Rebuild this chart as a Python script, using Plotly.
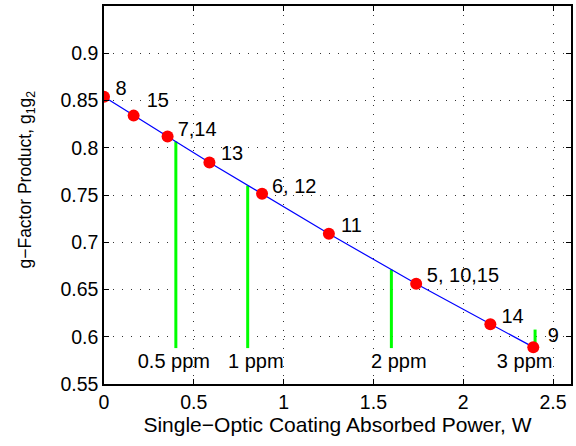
import plotly.graph_objects as go

# Data
pt_x = [0.0, 0.165, 0.354, 0.587, 0.88, 1.252, 1.738, 2.151, 2.39]
pt_y = [0.854, 0.834, 0.812, 0.7845, 0.7514, 0.709, 0.656, 0.6132, 0.589]
pt_labels = ["8", "15", "7,14", "13", "6, 12", "11", "5, 10,15", "14", "9"]
lab_x = [0.064, 0.238, 0.41, 0.651, 0.935, 1.32, 1.797, 2.213, 2.47]
lab_y = [0.8606, 0.848, 0.818, 0.7926, 0.757, 0.716, 0.663, 0.620, 0.600]

green_x = [0.4, 0.8, 1.6, 2.4]
green_bottom = [0.588, 0.588, 0.588, 0.589]
green_top = [0.8067, 0.760, 0.671, 0.6076]
ppm_labels = ["0.5 ppm", "1 ppm", "2 ppm", "3 ppm"]
ppm_x = [0.389, 0.845, 1.641, 2.342]
ppm_y = [0.5727, 0.5727, 0.5727, 0.5727]

x_ticks = [0, 0.5, 1, 1.5, 2, 2.5]
y_ticks = [0.55, 0.6, 0.65, 0.7, 0.75, 0.8, 0.85, 0.9]

x_title = "Single\u2212Optic Coating Absorbed Power, W"
y_title = "g\u2212Factor Product, g<sub>1</sub>g<sub>2</sub>"

FONT = "Liberation Sans, Arial, sans-serif"
FS_TICK = 19.5
FS_XTITLE = 21
FS_YTITLE = 17.5
FS_LAB = 20

fig = go.Figure()

for gx, gb, gt in zip(green_x, green_bottom, green_top):
    fig.add_trace(go.Scatter(x=[gx, gx], y=[gb, gt], mode="lines",
                             line=dict(color="#00ff00", width=3),
                             showlegend=False, hoverinfo="skip"))

fig.add_trace(go.Scatter(x=pt_x, y=pt_y, mode="lines",
                         line=dict(color="#0000ff", width=1.2),
                         showlegend=False))
fig.add_trace(go.Scatter(x=pt_x, y=pt_y, mode="markers",
                         marker=dict(color="#ff0000", size=12),
                         showlegend=False))

fig.add_trace(go.Scatter(x=lab_x, y=lab_y, mode="text", text=pt_labels,
                         textposition="middle right",
                         textfont=dict(family=FONT, size=FS_LAB, color="black"),
                         showlegend=False, hoverinfo="skip", cliponaxis=False))
fig.add_trace(go.Scatter(x=ppm_x, y=ppm_y, mode="text", text=ppm_labels,
                         textposition="middle center",
                         textfont=dict(family=FONT, size=FS_LAB, color="black"),
                         showlegend=False, hoverinfo="skip", cliponaxis=False))

axis_common = dict(showline=True, linecolor="black", linewidth=1.5, mirror="ticks",
                   ticks="inside", ticklen=5, tickcolor="black",
                   showgrid=True, gridcolor="#333333", griddash="1px,8px", gridwidth=1,
                   zeroline=False, tickfont=dict(family=FONT, size=FS_TICK, color="black"))

fig.update_xaxes(range=[0, 2.6], tickvals=x_ticks, ticktext=[str(v) for v in x_ticks],
                 title=dict(text=x_title,
                            font=dict(family=FONT, size=FS_XTITLE, color="black"), standoff=2),
                 **axis_common)
fig.update_yaxes(range=[0.55, 0.95], tickvals=y_ticks, ticktext=[f"{v:g}" for v in y_ticks],
                 **axis_common)

fig.add_annotation(text=y_title, xref="paper", yref="paper", x=0, y=0.541,
                   xshift=-77, xanchor="center", yanchor="middle", textangle=-90,
                   showarrow=False, font=dict(family=FONT, size=FS_YTITLE, color="black"))

fig.update_layout(width=576, height=446, plot_bgcolor="white", paper_bgcolor="white",
                  margin=dict(l=104, r=3, t=6, b=62), showlegend=False)

fig.write_html("out.html", config={"displayModeBar": False},
               post_script="document.body.style.margin='0';")
